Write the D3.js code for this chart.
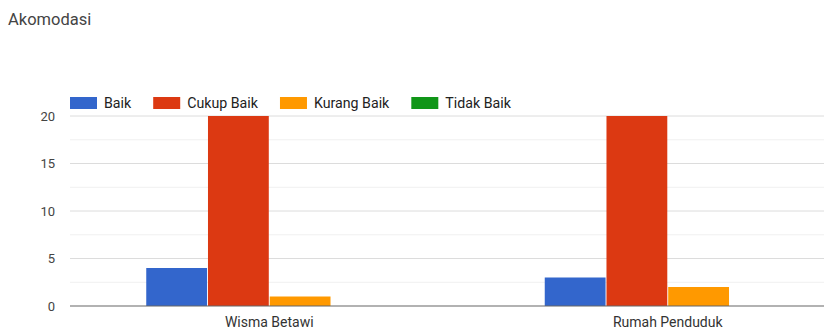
<!DOCTYPE html>
<html>
<head>
<meta charset="utf-8">
<script src="https://cdn.jsdelivr.net/npm/d3@7"></script>
<style>
  body { margin: 0; background: #fff; }
  svg { font-family: Roboto, "Noto Sans", sans-serif; }
</style>
</head>
<body>
<svg id="chart" width="824" height="331"></svg>
<script>
// data
const categories = ["Wisma Betawi", "Rumah Penduduk"];
const seriesNames = ["Baik", "Cukup Baik", "Kurang Baik", "Tidak Baik"];
const seriesColors = ["#3366cc", "#dc3912", "#ff9900", "#109618"];
const baik = [4, 3];
const cukupBaik = [20, 20];
const kurangBaik = [1, 2];
const tidakBaik = [0, 0];
const yTicks = [0, 5, 10, 15, 20];

const series = [baik, cukupBaik, kurangBaik, tidakBaik];

const svg = d3.select("#chart");
const plot = { left: 70, right: 867, top: 116, bottom: 306 };

svg.append("text")
    .attr("x", 8).attr("y", 25)
    .attr("font-size", 16.5)
    .attr("fill", "#444")
    .text("Akomodasi");

const y = d3.scaleLinear().domain([0, 20]).range([plot.bottom, plot.top]);
const x0 = d3.scaleBand().domain(categories).range([plot.left, plot.right]);
const x1 = d3.scaleBand().domain(seriesNames)
    .range([0, 246]).paddingInner(0.015);

// minor gridlines
svg.append("g").selectAll("line")
    .data(d3.range(2.5, 20, 5))
    .join("line")
    .attr("x1", plot.left).attr("x2", 824)
    .attr("y1", d => y(d)).attr("y2", d => y(d))
    .attr("stroke", "#f0f0f0");

// major gridlines
svg.append("g").selectAll("line")
    .data(yTicks.filter(d => d > 0))
    .join("line")
    .attr("x1", plot.left).attr("x2", 824)
    .attr("y1", d => y(d)).attr("y2", d => y(d))
    .attr("stroke", "#dcdcdc");

svg.append("g").selectAll("text")
    .data(yTicks)
    .join("text")
    .attr("x", 55).attr("y", d => y(d))
    .attr("dy", "0.35em")
    .attr("text-anchor", "end")
    .attr("font-size", 13)
    .attr("fill", "#444")
    .text(d => d);

// bars
const groups = svg.append("g").selectAll("g")
    .data(categories)
    .join("g")
    .attr("transform", c => "translate(" + (x0(c) + (x0.bandwidth() - 246) / 2) + ",0)");

groups.selectAll("rect")
    .data((c, i) => seriesNames.map((s, j) => ({ s: s, v: series[j][i], color: seriesColors[j] })))
    .join("rect")
    .attr("x", d => x1(d.s))
    .attr("width", x1.bandwidth())
    .attr("y", d => y(d.v))
    .attr("height", d => y(0) - y(d.v))
    .attr("fill", d => d.color);

// baseline
svg.append("line")
    .attr("x1", plot.left).attr("x2", 824)
    .attr("y1", y(0)).attr("y2", y(0))
    .attr("stroke", "#666").attr("stroke-width", 1.2);

svg.append("g").selectAll("text")
    .data(categories)
    .join("text")
    .attr("x", c => x0(c) + x0.bandwidth() / 2)
    .attr("y", 327)
    .attr("text-anchor", "middle")
    .attr("font-size", 14)
    .attr("fill", "#333")
    .text(c => c);

// legend
let lx = 70;
seriesNames.forEach(function (s, i) {
    const g = svg.append("g").attr("transform", "translate(" + lx + ",97)");
    g.append("rect").attr("width", 27).attr("height", 12).attr("fill", seriesColors[i]);
    const t = g.append("text")
        .attr("x", 34).attr("y", 6).attr("dy", "0.35em")
        .attr("font-size", 14.2).attr("fill", "#222")
        .text(s);
    lx += 34 + t.node().getComputedTextLength() + 22;
});
</script>
</body>
</html>
